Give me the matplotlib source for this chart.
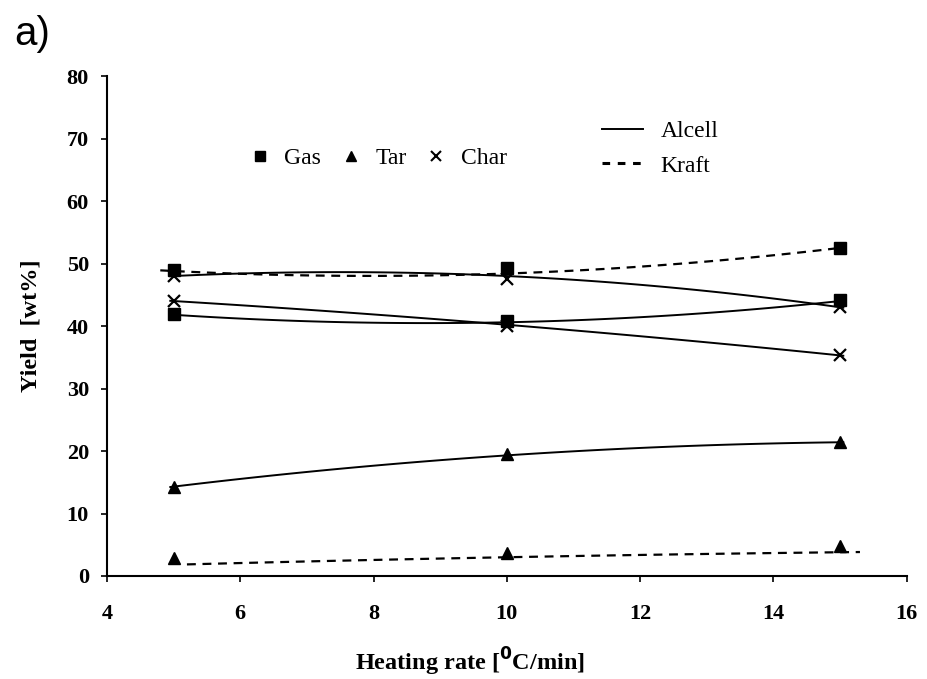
import numpy as np
import matplotlib
matplotlib.use("Agg")
import matplotlib.pyplot as plt
from matplotlib.lines import Line2D

# heating rates
rate = [5, 10, 15]

# measured points (markers)
alcell_gas = [42.0, 40.8, 44.2]
alcell_tar = [14.3, 19.5, 21.5]
alcell_char = [44.0, 40.0, 35.3]
kraft_gas = [49.0, 49.3, 52.5]
kraft_tar = [2.8, 3.7, 4.8]
kraft_char = [48.0, 47.5, 43.0]

# fitted trend lines (values of the curves at the heating rates)
fit_alcell_gas = [41.8, 40.6, 44.0]
fit_alcell_tar = [14.3, 19.3, 21.4]
fit_alcell_char = [44.0, 40.2, 35.3]
fit_kraft_gas = [48.8, 48.4, 52.5]
fit_kraft_tar = [1.8, 3.0, 3.8]
fit_kraft_char = [48.0, 48.0, 43.0]

serif = "Liberation Serif"

fig = plt.figure(figsize=(9.27, 6.79), dpi=100)
ax = fig.add_axes([0.1154, 0.1517, 0.8626, 0.7363])


def trend(vals, ls, x0=4.95, x1=15.05, lw=1.4):
    c = np.polyfit(rate, vals, 2)
    xs = np.linspace(x0, x1, 100)
    ax.plot(xs, np.polyval(c, xs), color="black", lw=lw, ls=ls, zorder=2)


trend(fit_alcell_gas, "-")
trend(fit_alcell_tar, "-")
trend(fit_alcell_char, "-")
trend(fit_kraft_char, "-")
trend(fit_kraft_gas, (0, (4, 3)), x0=4.8, lw=1.6)
trend(fit_kraft_tar, (0, (4, 3)), x0=5.2, x1=15.3, lw=1.6)

mk = dict(color="black", ls="none", zorder=3)
for ys in (alcell_gas, kraft_gas):
    ax.plot(rate, ys, marker="s", ms=8, **mk)
for ys in (alcell_tar, kraft_tar):
    ax.plot(rate, ys, marker="^", ms=9, **mk)
for ys in (alcell_char, kraft_char):
    ax.plot(rate, ys, marker="x", ms=9, mew=1.6, **mk)

ax.set_xlim(4, 16)
ax.set_ylim(0, 80)
ax.set_xticks(range(4, 17, 2))
ax.set_yticks(range(0, 81, 10))
for s in ("top", "right"):
    ax.spines[s].set_visible(False)
for s in ("left", "bottom"):
    ax.spines[s].set_linewidth(1.5)
ax.tick_params(direction="out", length=4, width=1.2, labelsize=16)
ax.tick_params(axis="x", pad=16)
ax.tick_params(axis="y", pad=9)
for lab in ax.get_xticklabels() + ax.get_yticklabels():
    lab.set_fontfamily(serif)
    lab.set_fontweight("bold")

fig.text(0.507, 0.025, r"Heating rate [$^{\mathbf{0}}$C/min]", fontfamily=serif,
         fontweight="bold", fontsize=17.5, ha="center", va="center")
ax.set_ylabel("Yield  [wt%]", fontfamily=serif, fontweight="bold",
              fontsize=17.5, labelpad=18)

# marker legend
h1 = [Line2D([], [], color="black", ls="none", marker="s", ms=6.5),
      Line2D([], [], color="black", ls="none", marker="^", ms=7.5),
      Line2D([], [], color="black", ls="none", marker="x", ms=7.5, mew=1.5)]
leg1 = ax.legend(h1, ["Gas", "Tar", "Char"], ncol=3, frameon=False,
                 loc="center left", bbox_to_anchor=(0.176, 0.836),
                 borderaxespad=0, borderpad=0,
                 prop={"family": serif, "size": 17}, handlelength=1.0,
                 handletextpad=0.55, columnspacing=0.75)
ax.add_artist(leg1)

h2 = [Line2D([], [], color="black", lw=1.4),
      Line2D([], [], color="black", lw=2.2, ls=(0, (2.5, 2.5)))]
ax.legend(h2, ["Alcell", "Kraft"], frameon=False, loc="center left",
          bbox_to_anchor=(0.619, 0.855), borderaxespad=0, borderpad=0,
          prop={"family": serif, "size": 17},
          handlelength=1.75, handletextpad=0.72, labelspacing=0.55)

fig.text(0.015, 0.934, "a)", fontsize=29, fontfamily="Liberation Sans",
         va="baseline")

fig.savefig("out.png", dpi=100)
